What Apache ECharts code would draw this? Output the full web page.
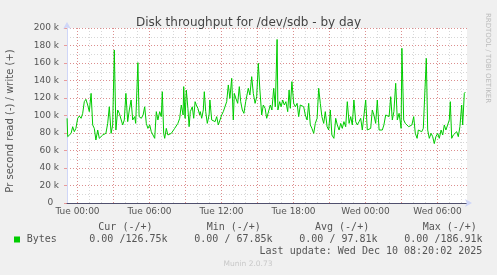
<!DOCTYPE html>
<html>
<head>
<meta charset="utf-8">
<script src="https://cdn.jsdelivr.net/npm/echarts@6/dist/echarts.min.js"></script>
<style>
html,body{margin:0;padding:0;background:#F0F0F0;}
#c{width:497px;height:275px;}
</style>
</head>
<body>
<div id="c"></div>
<script>
// minutes relative to Tue 00:00
var minutes = [
-52,-49,-41,-32,-24,-16,-8,1,9,18,26,34,42,51,59,68,76,84,92,101,109,118,126,134,142,151,159,168,176,184,192,201,209,218,226,234,242,251,259,268,276,
278,286,291,302,308,319,328,336,344,352,361,369,378,386,394,402,411,419,424,431,436,444,452,461,469,478,486,494,502,511,519,528,531,538,544,552,558,564,574,581,588,594,602,611,
614,621,629,634,641,649,658,662,671,679,688,696,704,712,721,729,738,746,754,762,771,779,784,792,801,809,816,824,832,841,846,854,862,871,879,888,896,904,912,921,929,938,946,
948,956,964,972,981,989,998,1002,1011,1018,1026,1034,1042,1051,1058,1064,1072,1081,1089,1098,1106,1114,1122,1131,1139,1148,1156,1164,1172,1181,1189,1198,1206,1214,1222,1231,1239,1248,1256,1264,1272,1281,
1282,1291,1299,1308,1316,1324,1332,1341,1349,1358,1366,1374,1382,1391,1399,1408,1416,1424,1432,1441,1449,1458,1466,1474,1482,1491,1499,1508,1516,1524,1532,1541,1549,1558,1566,1574,1582,1591,1599,1608,1616,
1618,1622,1631,1639,1648,1656,1664,1672,1681,1689,1698,1704,1712,1721,1729,1738,1744,1751,1759,1768,1776,1784,1792,1801,1809,1818,1826,1834,1842,1851,1859,1864,1871,1879,1888,1896,1904,1912,1921,1926,1934,1939
];
// write throughput, in thousands of bytes per second
var writeK = [
96.8,75.8,77.7,79.6,87.2,81.5,85.3,96.8,99.4,96.8,102.5,115.8,118.5,112,104.4,125.3,89.2,85.3,72,83.4,73.9,72,77.7,77.7,79.6,91,110,79.6,89.2,174.9,83.4,106.3,102.5,104.4,89.2,94.9,125.3,93,106.3,117.7,94.9,
96.8,98.7,91,160.4,98.7,96.8,100.6,110,91,85.3,89.2,81.5,83.4,73.9,104.4,94.9,104.4,98.7,127.2,79.6,73.9,85.3,77.7,75.8,79.6,77.7,85.3,83.4,91,96.8,112,100.6,133,96.8,129.1,108.2,87.2,104.4,110,96.8,115.8,112,108.2,100.6,
104.4,96.8,106.3,127.2,104.4,91,100.6,117.7,94.9,96.8,93,98.7,89.2,89.2,100.6,104.4,104.4,115.8,134.9,119.6,142.5,94.9,125.3,119.6,113.9,133,115.8,106.3,102.5,115.8,115.8,131.1,123.4,144.4,125.3,113.9,121.5,159.6,129.1,100.6,112,108.2,96.8,
98.7,96.8,112,106.3,131.1,110,186.9,106.3,115.8,110,117.7,112,115.8,104.4,129.1,108.2,138.7,113.9,110,113.9,98.7,112,113.9,110,100.6,94.9,113.9,89.2,85.3,79.6,91,96.8,131.1,113.9,98.7,91,104.4,87.2,83.4,106.3,77.7,75.8,
73.9,96.8,89.2,83.4,91,85.3,93,87.2,115.8,91,98.7,89.2,117.7,93,89.2,93,96.8,83.4,81.5,117.7,83.4,81.5,85.3,106.3,100.6,91,117.7,83.4,85.3,83.4,89.2,100.6,102.5,98.7,121.5,94.9,104.4,136.8,94.9,102.5,89.2,
85.3,176.8,94.9,91,93,87.2,87.2,89.2,98.7,79.6,73.9,83.4,85.3,81.5,85.3,85.3,165.3,83.4,73.9,79.6,75.8,67.9,75.8,79.6,73.9,83.4,77.7,89.2,83.4,83.4,94.9,115.8,73.9,77.7,75.8,81.5,75.8,87.2,112,89.2,125.3,126.75
];
var xLabelMinutes = [0, 360, 720, 1080, 1440, 1800];
var xLabels = ['Tue 00:00', 'Tue 06:00', 'Tue 12:00', 'Tue 18:00', 'Wed 00:00', 'Wed 06:00'];
var legendHeads = ['Cur (-/+)', 'Min (-/+)', 'Avg (-/+)', 'Max (-/+)'];
var legendVals = ['0.00 /126.75k', '0.00 / 67.85k', '0.00 / 97.81k', '0.00 /186.91k'];

var hourTicks = [], majorTicks = [];
for (var m = 0; m <= 1947; m += 60) { hourTicks.push(m); if (m % 180 === 0) majorTicks.push(m); }

var data = minutes.map(function (t, i) { return [t, writeK[i]]; });

var MINOR = 'rgba(160,160,160,0.42)';
var MAJOR = 'rgba(225,70,70,0.5)';
var AXIS = '#CFD6F8';
var FONT = '#555';
var mono = '"DejaVu Sans Mono", monospace';
var sans = '"DejaVu Sans", sans-serif';

var graphics = [];
graphics.push({type:'text', x:10.5, y:121, rotation:Math.PI/2,
  style:{text:'Pr second read (-) / write (+)', font:'10px ' + sans, fill:FONT, align:'center', verticalAlign:'middle'}});
graphics.push({type:'text', x:488, y:58, rotation:-Math.PI/2,
  style:{text:'RRDTOOL / TOBI OETIKER', font:'7px ' + sans, fill:'#bbb', align:'center', verticalAlign:'middle'}});
var headX = [98.3, 206.7, 315, 422.7];
var valX = [89.3, 194.3, 299.3, 404.3];
for (var i = 0; i < 4; i++) {
  graphics.push({type:'text', x:headX[i], y:227.3, style:{text:legendHeads[i], font:'10px ' + mono, fill:FONT, align:'left', verticalAlign:'middle'}});
  graphics.push({type:'text', x:valX[i], y:239.3, style:{text:legendVals[i], font:'10px ' + mono, fill:FONT, align:'left', verticalAlign:'middle'}});
}
graphics.push({type:'rect', shape:{x:14, y:236.5, width:6, height:6}, style:{fill:'#00CC00'}});
graphics.push({type:'text', x:26.7, y:239.3, style:{text:'Bytes', font:'10px ' + mono, fill:FONT, align:'left', verticalAlign:'middle'}});
graphics.push({type:'text', x:482.3, y:251.7, style:{text:'Last update: Wed Dec 10 08:20:02 2025', font:'10px ' + mono, fill:FONT, align:'right', verticalAlign:'middle'}});
graphics.push({type:'text', x:248, y:264, style:{text:'Munin 2.0.73', font:'7.5px ' + sans, fill:'#c8c8c8', align:'center', verticalAlign:'middle'}});

var chart = echarts.init(document.getElementById('c'), null, {renderer:'canvas'});
chart.setOption({
  animation: false,
  backgroundColor: '#F0F0F0',
  title: {text:'Disk throughput for /dev/sdb - by day', left:'center', top:12,
    textStyle:{fontFamily:sans, fontSize:12, fontWeight:'normal', color:'#444'}},
  grid: {left:67, top:28, width:400, height:175, show:true, backgroundColor:'#fff', borderWidth:0},
  xAxis: [
    {type:'value', min:-52.5, max:1947.5, position:'bottom', axisLine:{onZero:false, show:true, lineStyle:{color:AXIS}, symbol:['none','arrow'], symbolSize:[6,7], symbolOffset:[0,5]},
     axisTick:{show:false, customValues:hourTicks}, axisLabel:{show:false},
     splitLine:{show:true, lineStyle:{color:MINOR, type:[1,2], width:1}}},
    {type:'value', min:-52.5, max:1947.5, position:'bottom', axisLine:{onZero:false, show:true, lineStyle:{color:'#50506e'}},
     axisTick:{show:false, customValues:majorTicks},
     axisLabel:{show:true, customValues:xLabelMinutes, margin:4, fontFamily:sans, fontSize:9, color:FONT,
       formatter:function(v){ var k = xLabelMinutes.indexOf(v); return k >= 0 ? xLabels[k] : ''; }},
     splitLine:{show:true, lineStyle:{color:MAJOR, type:[1,2], width:1}}}
  ],
  yAxis: [
    {type:'value', min:0, max:200, interval:10, position:'left',
     axisLine:{onZero:false, show:true, lineStyle:{color:AXIS}, symbol:['none','arrow'], symbolSize:[6,7], symbolOffset:[0,6]},
     axisTick:{show:false}, axisLabel:{show:false},
     splitLine:{show:true, lineStyle:{color:MINOR, type:[1,2], width:1}}},
    {type:'value', min:0, max:200, interval:20, position:'left', offset:0,
     axisLine:{onZero:false, show:false}, axisTick:{show:true, length:3, inside:false, lineStyle:{color:MAJOR}},
     axisLabel:{show:true, margin:8, fontFamily:sans, fontSize:9, color:FONT,
       formatter:function(v){ return v === 0 ? '0  ' : v + ' k'; }},
     splitLine:{show:true, lineStyle:{color:MAJOR, type:[1,2], width:1}}}
  ],
  graphic: graphics,
  series: [{
    type:'line', xAxisIndex:0, yAxisIndex:0, data:data, showSymbol:false, symbol:'none',
    lineStyle:{color:'#00CC00', width:1}, z:5
  }]
});
</script>
</body>
</html>
